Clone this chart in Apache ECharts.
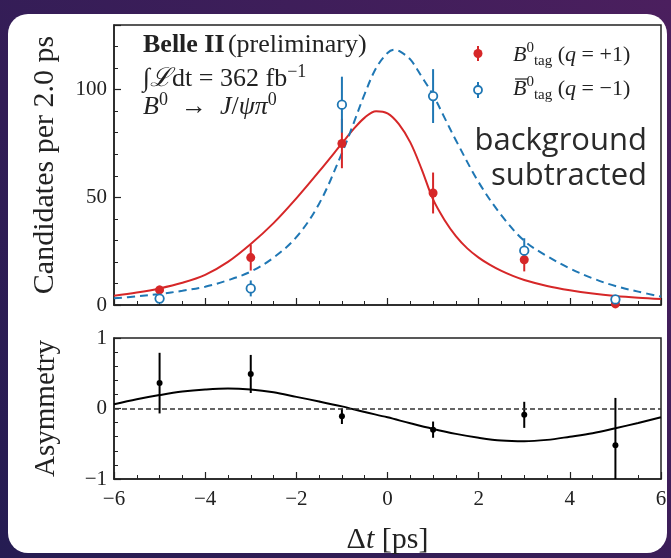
<!DOCTYPE html>
<html><head><meta charset="utf-8">
<script src="https://cdn.jsdelivr.net/npm/echarts@6/dist/echarts.min.js"></script>
<style>html,body{margin:0;padding:0;background:#341a4c}#c{width:671px;height:558px}</style>
</head><body><div id="c"></div>
<script>
// ---- data ----
const dtBins      = [-5, -3, -1, 1, 3, 5];
const redCounts   = [7, 22, 75, 52, 21, 0.5];
const redErrors   = [2, 6, 11.5, 9.5, 5.4, 1];
const blueCounts  = [3, 7.7, 93, 97, 25.2, 2.6];
const blueErrors  = [2, 3.7, 13, 12.5, 5.8, 1.5];

const redCurveX  = [-6,-5.5,-5,-4.5,-4,-3.5,-3,-2.5,-2,-1.5,-1,-0.75,-0.5,-0.25,0,0.25,0.5,0.75,1,1.25,1.5,1.75,2,2.25,2.5,2.75,3,3.5,4,4.5,5,5.5,6];
const redCurveY  = [4.3,5.8,7.7,10.3,14,20,28.3,38,49.5,62,75,81.5,87,90,89,84,75.5,63,49,39.5,32,26.3,22,18.6,15.8,13.5,11.6,8.8,6.8,5.3,4.2,3.4,2.8];
const blueCurveX = [-6,-5.5,-5,-4.5,-4,-3.5,-3,-2.5,-2,-1.5,-1,-0.75,-0.5,-0.25,0,0.15,0.25,0.5,0.75,1,1.25,1.5,2,2.5,3,3.5,4,4.5,5,5.5,6];
const blueCurveY = [3.1,4,5.1,6.6,8.5,11.5,15.5,22,31.5,47,70.5,84,98,110,117,118.5,118,114,106,97.5,87,76.5,57,41.6,29.8,22.7,17,12.4,8.8,6.2,3.9];

const asymValues = [0.36, 0.49, -0.11, -0.30, -0.09, -0.52];
const asymErrors = [0.43, 0.27, 0.11, 0.115, 0.185, 0.67];
const asymCurveX = [-6,-5.5,-5,-4.5,-4,-3.5,-3,-2.5,-2,-1.5,-1,-0.5,0,0.5,1,1.5,2,2.5,3,3.5,4,4.5,5,5.5,6];
const asymCurveY = [0.06,0.13,0.19,0.24,0.27,0.285,0.27,0.23,0.165,0.1,0.03,-0.05,-0.125,-0.21,-0.29,-0.36,-0.415,-0.455,-0.465,-0.445,-0.4,-0.35,-0.28,-0.205,-0.125];

const countTickLabels = [0, 50, 100];
const asymTickLabels  = [-1, 0, 1];

// ---- style ----
const SERIF = "'Liberation Serif','DejaVu Serif',serif";
const INK = '#222';
const RED = '#d62728';
const BLUE = '#1f77b4';
const minus = v => (v < 0 ? '\u2212' + Math.abs(v) : String(v));

const chart = echarts.init(document.getElementById('c'), null, {renderer: 'canvas'});

function errBars(xs, ys, es, color, xi, yi, lo) {
  return {
    type: 'custom', xAxisIndex: xi, yAxisIndex: yi, z: 3, clip: true,
    encode: {x: 0, y: [1, 2]},
    data: xs.map((x, i) => [x, Math.max(ys[i] - es[i], lo), ys[i] + es[i]]),
    renderItem: (p, api) => {
      const a = api.coord([api.value(0), api.value(1)]);
      const b = api.coord([api.value(0), api.value(2)]);
      return {type: 'line', shape: {x1: a[0], y1: a[1], x2: b[0], y2: b[1]},
              style: {stroke: color, lineWidth: 2}};
    }
  };
}

const tickStyle = {color: INK, width: 1.2};
const baseX = {
  type: 'value', min: -6, max: 6, interval: 2,
  axisLine: {show: true, onZero: false, lineStyle: {color: INK, width: 1.5}},
  axisTick: {inside: true, length: 7, lineStyle: tickStyle},
  minorTick: {show: true, splitNumber: 4, length: 4, lineStyle: {color: INK, width: 1}},
  splitLine: {show: false}
};

const richMath = (fs) => ({
  n: {fontFamily: SERIF, fontSize: fs, color: INK, lineHeight: fs + 6},
  b: {fontFamily: SERIF, fontSize: fs, color: INK, fontWeight: 'bold', lineHeight: fs + 6},
  i: {fontFamily: SERIF, fontSize: fs, color: INK, fontStyle: 'italic', lineHeight: fs + 6},
  sup: {fontFamily: SERIF, fontSize: Math.round(fs * 0.68), color: INK, verticalAlign: 'top', lineHeight: fs + 6},
  sub: {fontFamily: SERIF, fontSize: Math.round(fs * 0.68), color: INK, verticalAlign: 'bottom', lineHeight: fs + 6}
});
const SANS = "'Open Sans','Noto Sans','Liberation Sans',sans-serif";

const option = {
  backgroundColor: {
    type: 'linear', x: 1, y: 0, x2: 0, y2: 1,
    colorStops: [{offset: 0, color: '#4b1f5e'}, {offset: 1, color: '#251c52'}]
  },
  animation: false,
  graphic: [
    {type: 'rect', z: -100, shape: {x: 8, y: 14, width: 659, height: 539, r: 20}, style: {fill: '#ffffff'}},
    {type: 'text', z: 10, x: 143, y: 45, style: {
      text: '{b|Belle II} {n|(preliminary)}', rich: richMath(26), verticalAlign: 'middle', fill: INK}},
    {type: 'text', z: 10, x: 143, y: 79, style: {
      text: '{n|\u222B}{i|\u2112}{n|dt = 362 fb}{sup|\u22121}', rich: richMath(26), verticalAlign: 'middle', fill: INK}},
    {type: 'text', z: 10, x: 143, y: 107, style: {
      text: '{i|B}{sup|0}{n|  \u2192  }{i|J}{n|/}{i|\u03C8\u03C0}{sup|0}', rich: richMath(26), verticalAlign: 'middle', fill: INK}},
    // legend glyphs
    {type: 'line', z: 10, shape: {x1: 478, y1: 46, x2: 478, y2: 61}, style: {stroke: RED, lineWidth: 2}},
    {type: 'circle', z: 11, shape: {cx: 478, cy: 53.5, r: 4.5}, style: {fill: RED}},
    {type: 'line', z: 10, shape: {x1: 478, y1: 82, x2: 478, y2: 98}, style: {stroke: BLUE, lineWidth: 2}},
    {type: 'circle', z: 11, shape: {cx: 478, cy: 90, r: 4}, style: {fill: '#fff', stroke: BLUE, lineWidth: 1.8}},
    {type: 'text', z: 10, x: 513, y: 55, style: {
      text: '{i|B}{sup|0}{sub|tag}{n| (}{i|q}{n| = +1)}', rich: richMath(22), verticalAlign: 'middle', fill: INK}},
    {type: 'text', z: 10, x: 513, y: 89, style: {
      text: '{i|B}{sup|0}{sub|tag}{n| (}{i|q}{n| = \u22121)}', rich: richMath(22), verticalAlign: 'middle', fill: INK}},
    {type: 'line', z: 10, shape: {x1: 515, y1: 79, x2: 528, y2: 79}, style: {stroke: INK, lineWidth: 1.2}},
    // annotation
    {type: 'text', z: 10, x: 647, y: 141, style: {
      text: 'background', font: '31px ' + SANS, fill: '#2a2a2a', align: 'right', verticalAlign: 'middle'}},
    {type: 'text', z: 10, x: 647, y: 176, style: {
      text: 'subtracted', font: '31px ' + SANS, fill: '#2a2a2a', align: 'right', verticalAlign: 'middle'}}
  ],
  grid: [
    {left: 114, top: 25, width: 547, height: 280, show: true, borderColor: INK, borderWidth: 1.5, backgroundColor: 'transparent'},
    {left: 114, top: 338, width: 547, height: 141, show: true, borderColor: INK, borderWidth: 1.5, backgroundColor: 'transparent'}
  ],
  xAxis: [
    Object.assign({}, baseX, {gridIndex: 0, axisLabel: {show: false}}),
    Object.assign({}, baseX, {gridIndex: 1,
      axisLabel: {show: true, formatter: minus, fontFamily: SERIF, fontSize: 21, color: INK, margin: 10},
      name: '{n|\u0394}{i|t}{n| [ps]}', nameLocation: 'middle', nameGap: 43,
      nameTextStyle: {rich: richMath(30)}})
  ],
  yAxis: [
    {gridIndex: 0, type: 'value', min: 0, max: 130, interval: 10,
     axisLine: {show: true, onZero: false, lineStyle: {color: INK, width: 1.5}},
     axisTick: {inside: true, length: 4, lineStyle: {color: INK, width: 1}},
     axisLabel: {formatter: v => (countTickLabels.includes(v) ? String(v) : ''), fontFamily: SERIF, fontSize: 21, color: INK, margin: 7},
     splitLine: {show: false},
     name: 'Candidates per 2.0 ps', nameLocation: 'middle', nameGap: 54,
     nameTextStyle: {fontFamily: SERIF, fontSize: 30, color: INK}},
    {gridIndex: 0, type: 'value', min: 0, max: 130, interval: 50, position: 'left', offset: 0,
     axisLine: {show: false, onZero: false}, axisTick: {inside: true, length: 7, lineStyle: tickStyle},
     axisLabel: {show: false}, splitLine: {show: false}},
    {gridIndex: 1, type: 'value', min: -1, max: 1, interval: 1,
     axisLine: {show: true, onZero: false, lineStyle: {color: INK, width: 1.5}},
     axisTick: {inside: true, length: 7, lineStyle: tickStyle},
     minorTick: {show: true, splitNumber: 5, length: 4, lineStyle: {color: INK, width: 1}},
     axisLabel: {formatter: v => (asymTickLabels.includes(v) ? minus(v) : ''), fontFamily: SERIF, fontSize: 21, color: INK, margin: 7},
     splitLine: {show: false},
     name: 'Asymmetry', nameLocation: 'middle', nameGap: 53,
     nameTextStyle: {fontFamily: SERIF, fontSize: 29, color: INK}}
  ],
  series: [
    {type: 'line', xAxisIndex: 0, yAxisIndex: 0, z: 2, smooth: 0.35, symbol: 'none',
     data: redCurveX.map((x, i) => [x, redCurveY[i]]), lineStyle: {color: RED, width: 2}},
    {type: 'line', xAxisIndex: 0, yAxisIndex: 0, z: 2, smooth: 0.35, symbol: 'none',
     data: blueCurveX.map((x, i) => [x, blueCurveY[i]]), lineStyle: {color: BLUE, width: 2, type: [8, 5]}},
    errBars(dtBins, redCounts, redErrors, RED, 0, 0, 0),
    {type: 'scatter', xAxisIndex: 0, yAxisIndex: 0, z: 4, symbol: 'circle', symbolSize: 9,
     data: dtBins.map((x, i) => [x, redCounts[i]]), itemStyle: {color: RED, opacity: 1}},
    errBars(dtBins, blueCounts, blueErrors, BLUE, 0, 0, 0),
    {type: 'scatter', xAxisIndex: 0, yAxisIndex: 0, z: 5, symbol: 'circle', symbolSize: 8.5,
     data: dtBins.map((x, i) => [x, blueCounts[i]]), itemStyle: {color: '#fff', borderColor: BLUE, borderWidth: 1.8, opacity: 1}},
    {type: 'line', xAxisIndex: 1, yAxisIndex: 2, z: 2, smooth: 0.35, symbol: 'none',
     data: asymCurveX.map((x, i) => [x, asymCurveY[i]]), lineStyle: {color: '#000', width: 2},
     markLine: {silent: true, symbol: 'none', label: {show: false},
       lineStyle: {color: '#333', width: 1.5, type: [5, 3]}, data: [{yAxis: 0}]}},
    errBars(dtBins, asymValues, asymErrors, '#000', 1, 2, -1),
    {type: 'scatter', xAxisIndex: 1, yAxisIndex: 2, z: 4, symbol: 'circle', symbolSize: 6,
     data: dtBins.map((x, i) => [x, asymValues[i]]), itemStyle: {color: '#000', opacity: 1}}
  ]
};
chart.setOption(option);
</script></body></html>
